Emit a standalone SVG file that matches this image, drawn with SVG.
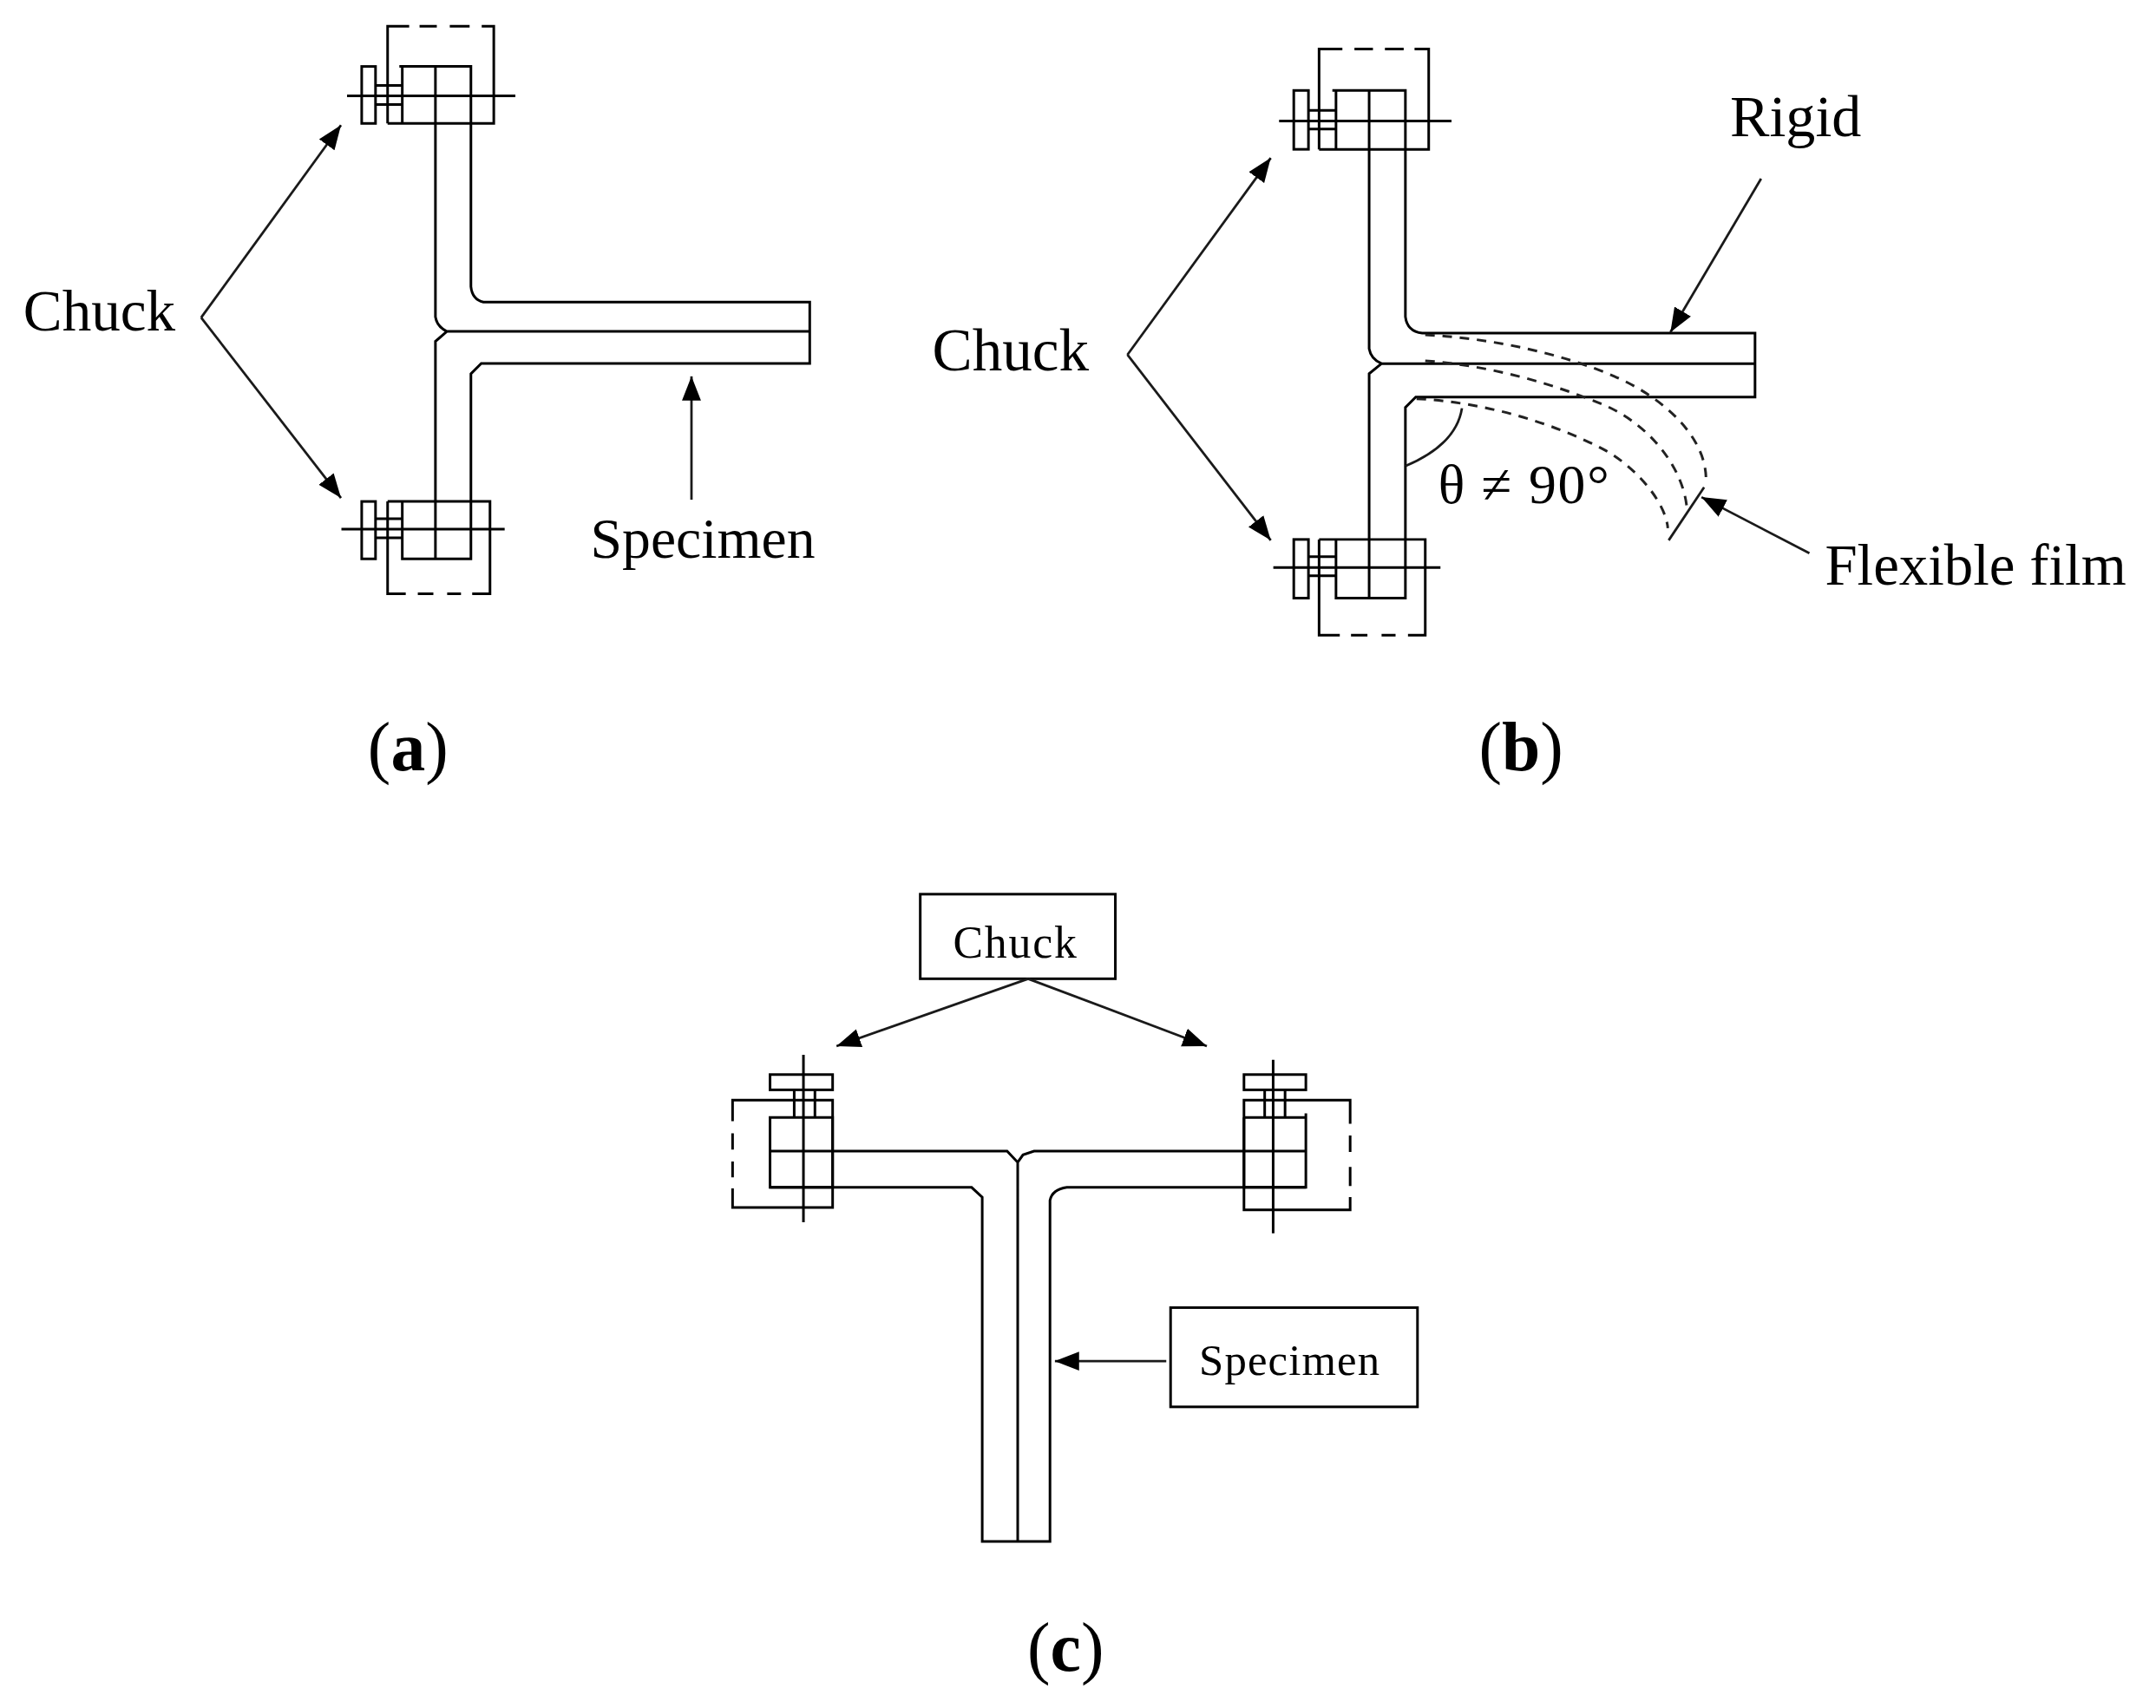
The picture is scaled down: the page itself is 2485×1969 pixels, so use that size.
<svg xmlns="http://www.w3.org/2000/svg" width="2485" height="1969" viewBox="0 0 2485 1969">
<style>
.l{fill:none;stroke:#000;stroke-width:3}
.c{fill:none;stroke:#1a1a1a;stroke-width:2.8}
.d{fill:none;stroke:#222;stroke-width:3;stroke-dasharray:11 9}
.t{font-family:"Liberation Serif","Times New Roman",serif;fill:#000}
.b{font-weight:bold}
</style>
<defs>
<marker id="ah" markerUnits="userSpaceOnUse" markerWidth="28" markerHeight="24" viewBox="0 0 28 24" refX="28" refY="12" orient="auto"><polygon points="0,1 28,12 0,23" fill="#000"/></marker>
</defs>
<rect width="2485" height="1969" fill="#fff"/>
<g id="diagram" transform="scale(0.995)">
<g id="specimen-a">
<path class="l" d="M504.4 143V367Q506 378 517.6 384H938V421H557.5L545.5 433V581M545.5 143V332Q547 347 560 350H938V384M517.6 384L504.4 395.5V581"/>
</g>
<g id="chuck-a-top">
<path class="l" d="M449 143V30.500H474M486 30.500H506M521 30.500H544M558 30.500H572V143H449"/>
<rect class="l" x="419" y="77" width="16" height="66"/>
<path class="l" d="M462.600 77H545.500V143M466 77V143M504.400 77V143M402 111H597M435 99H466M435 121H466"/>
</g>
<g id="chuck-a-bottom">
<path class="l" d="M449 581V688H470M484 688H502M518 688H534M547 688H567.600V581H449"/>
<rect class="l" x="419" y="581" width="16" height="66.500"/>
<path class="l" d="M466 581V647.500H545.500V581M504.400 581V647.500M395.500 613H584.600M435 601H466M435 623H466"/>
</g>

<g id="specimen-b">
<path class="l" d="M1586 173V404Q1588 416 1600.400 421.300H2033V460H1640L1628 472V625M1628 173V367Q1630 384 1647.500 386H2033V421.300M1600.400 421.300L1586 433V625"/>
</g>
<g id="chuck-b-top">
<path class="l" d="M1528 173V56.800H1555M1569 56.800H1590.400M1604.300 56.800H1626M1638.600 56.800H1655V173H1528"/>
<rect class="l" x="1498.700" y="104.800" width="17" height="68.200"/>
<path class="l" d="M1543.400 104.800H1628V173M1547.600 104.800V173M1586 104.800V173M1481.700 140.300H1681.400M1515.700 127.800H1547.600M1515.700 149.500H1547.600"/>
</g>
<g id="chuck-b-bottom">
<path class="l" d="M1528 625V736H1552M1565 736H1584M1600.400 736H1616.600M1631 736H1651V625H1528"/>
<rect class="l" x="1498.700" y="625" width="17" height="68"/>
<path class="l" d="M1547.600 625V693H1628V625M1586 625V693M1475 657.600H1668.600M1515.700 645H1547.600M1515.700 667H1547.600"/>
</g>
<g id="flexible-film">
<path class="d" d="M1651 388C1730 392 1810 410 1870 436C1930 462 1980 510 1976 561"/>
<path class="d" d="M1651 418C1730 424 1800 445 1860 470C1915 495 1950 545 1954 588"/>
<path class="d" d="M1641 462C1720 466 1800 490 1860 522C1900 545 1930 585 1932 612"/>
<path class="c" d="M1974 564.600L1933 626"/>
<path class="c" d="M1693.500 473Q1687 515 1628 540"/>
</g>

<g id="specimen-c">
<path class="l" d="M892 1333.700H1166.600L1178.900 1346.700L1185 1338L1197.800 1333.700H1512.700M892 1375.700H1125.500L1137.800 1387V1786H1216.300V1390.700Q1219 1378 1235.800 1375.700H1512.700M1178.900 1346.700V1786"/>
</g>
<g id="chuck-c-left">
<path class="l" d="M848.600 1299V1274.700H964.500V1399H848.600V1377M848.600 1313V1332M848.600 1345.700V1364"/>
<rect class="l" x="892" y="1245" width="72.500" height="17.700"/>
<rect class="l" x="892" y="1294.700" width="72.500" height="81"/>
<path class="l" d="M930.700 1222V1416M920 1262.700V1294.700M944 1262.700V1294.700"/>
</g>
<g id="chuck-c-right">
<path class="l" d="M1564 1302V1274.700H1441V1401.700H1564V1387M1564 1315.700V1334.700M1564 1352V1374"/>
<rect class="l" x="1441" y="1245" width="71.700" height="17.700"/>
<path class="l" d="M1441 1294.700V1375.700H1512.700V1290M1441 1294.700H1512.700"/>
<path class="l" d="M1474.800 1228V1429M1465 1262.700V1294.700M1488.600 1262.700V1294.700"/>
</g>
<g id="label-chuck-c">
<rect class="l" x="1066" y="1036" width="226" height="98"/>
<text class="t" x="1104" y="1110" font-size="52" textLength="143" lengthAdjust="spacing">Chuck</text>
</g>
<g id="label-specimen-c">
<rect class="l" x="1356" y="1515" width="286" height="115"/>
<text class="t" x="1389" y="1593" font-size="51" textLength="209" lengthAdjust="spacing">Specimen</text>
</g>

<g id="connectors">
<g class="c" marker-end="url(#ah)">
<path d="M233 368L395 145"/>
<path d="M233 368L395 577"/>
<path d="M801 579V436"/>
<path d="M1306 411L1472 183"/>
<path d="M1306 411L1472 626"/>
<path d="M2040 207L1935 385"/>
<path d="M2096 641L1971 576"/>
<path d="M1191 1134L969 1212"/>
<path d="M1191 1134L1398 1212"/>
<path d="M1351 1577H1222"/>
</g>
</g>

<g id="labels">
<text class="t" x="27" y="383" font-size="67.500">Chuck</text>
<text class="t" x="684" y="646" font-size="66">Specimen</text>
<text class="t" x="1080" y="429" font-size="69.500">Chuck</text>
<text class="t" x="2004" y="158" font-size="68.500">Rigid</text>
<text class="t" x="2114" y="677" font-size="67.200">Flexible film</text>
<text class="t" x="1666" y="583" font-size="64" textLength="198" lengthAdjust="spacing">θ ≠ 90°</text>
<text class="t" x="426" y="892" font-size="80">(<tspan class="b">a</tspan>)</text>
<text class="t" x="1713" y="892" font-size="80">(<tspan class="b">b</tspan>)</text>
<text class="t" x="1190" y="1936" font-size="80">(<tspan class="b">c</tspan>)</text>
</g>
</g>
</svg>
